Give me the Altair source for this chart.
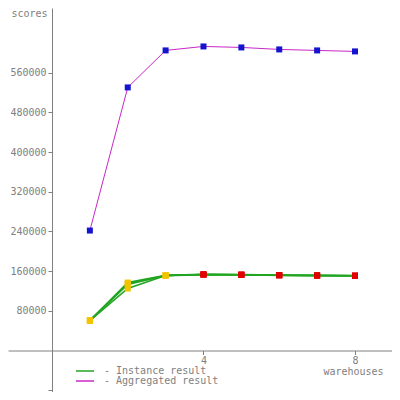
import altair as alt
import pandas as pd

# ---- data ----
warehouses = [1, 2, 3, 4, 5, 6, 7, 8]
instance_1 = [60500, 137000, 151500, 153500, 153000, 152000, 151500, 151000]
instance_2 = [60300, 135000, 151000, 153000, 152800, 151500, 151200, 150500]
instance_3 = [60700, 133000, 151200, 153200, 152500, 151700, 151200, 150800]
instance_4 = [60300, 125000, 151200, 153200, 152600, 151700, 151000, 150600]
aggregated = [241800, 530300, 604900, 612900, 610900, 606900, 604900, 602900]
series_names = ["Instance result", "Aggregated result"]
y_ticks = [-80000, 80000, 160000, 240000, 320000, 400000, 480000, 560000]
x_ticks = [4, 8]

rows = []
for i, vals in enumerate([instance_1, instance_2, instance_3, instance_4], start=1):
    for w, v in zip(warehouses, vals):
        rows.append({"warehouses": w, "score": v, "series": series_names[0], "instance": f"inst{i}"})
for w, v in zip(warehouses, aggregated):
    rows.append({"warehouses": w, "score": v, "series": series_names[1], "instance": "agg"})
df = pd.DataFrame(rows)

GRAY = "#808080"
GREEN = "#22a522"
PURPLE = "#c828c8"
FONT = "DejaVu Sans Mono"

W, H = 384, 384
x_scale = alt.Scale(domain=[-1.1617, 8.977], nice=False, zero=False)
y_scale = alt.Scale(domain=[-83650, 690400], nice=False, zero=False)

x_enc = alt.X(
    "warehouses:Q", scale=x_scale,
    axis=alt.Axis(values=x_ticks, offset=-41.5, title="warehouses", titleX=345, titleY=23.5,
                  titleBaseline="alphabetic", titleAlign="center", tickSize=4, labelPadding=1,
                  grid=False, labelFlush=False),
)
y_enc = alt.Y(
    "score:Q", scale=y_scale,
    axis=alt.Axis(values=y_ticks, offset=-44, format="d",
                  labelExpr="datum.value < 0 ? '' : datum.label",
                  title="scores", titleAngle=0, titleAlign="right", titleX=-5, titleY=8,
                  titleBaseline="alphabetic", tickSize=4, labelPadding=2, grid=False,
                  labelOverlap=False, labelFlush=False),
)

color = alt.Color(
    "series:N",
    scale=alt.Scale(domain=series_names, range=[GREEN, PURPLE]),
    legend=alt.Legend(orient="none", legendX=72, legendY=358, title=None,
                      symbolType="M-4.5,0H4.5", symbolSize=16, symbolStrokeWidth=1.5,
                      labelExpr="'- ' + datum.label", labelOffset=14, rowPadding=-6,
                      padding=0, labelFont=FONT, labelFontSize=10, labelColor=GRAY),
    sort=series_names,
)

lines = alt.Chart(df).mark_line().encode(
    x=x_enc, y=y_enc, color=color, detail="instance:N",
    strokeWidth=alt.condition(alt.datum.series == series_names[0], alt.value(1.6), alt.value(1)),
)

inst_pts = alt.Chart(df).transform_filter(
    alt.datum.series == series_names[0]
).mark_square(size=36, opacity=1).encode(
    x="warehouses:Q", y="score:Q",
    color=alt.condition(alt.datum.warehouses >= 4, alt.value("#e00000"), alt.value("#f2c400")),
)

agg_pts = alt.Chart(df).transform_filter(
    alt.datum.series == series_names[1]
).mark_square(size=36, opacity=1, color="#1414d0").encode(
    x="warehouses:Q", y="score:Q",
)

chart = alt.layer(lines, inst_pts, agg_pts).properties(
    width=W, height=H, padding=0, autosize=alt.AutoSizeParams(type="none"),
    background="white",
).configure_view(stroke=None).configure_axis(
    domainColor=GRAY, tickColor=GRAY, labelColor=GRAY, titleColor=GRAY,
    labelFont=FONT, titleFont=FONT, labelFontSize=10, titleFontSize=10,
    titleFontWeight="normal",
)

chart.save("out.html", embed_options={"renderer": "svg", "actions": False})
